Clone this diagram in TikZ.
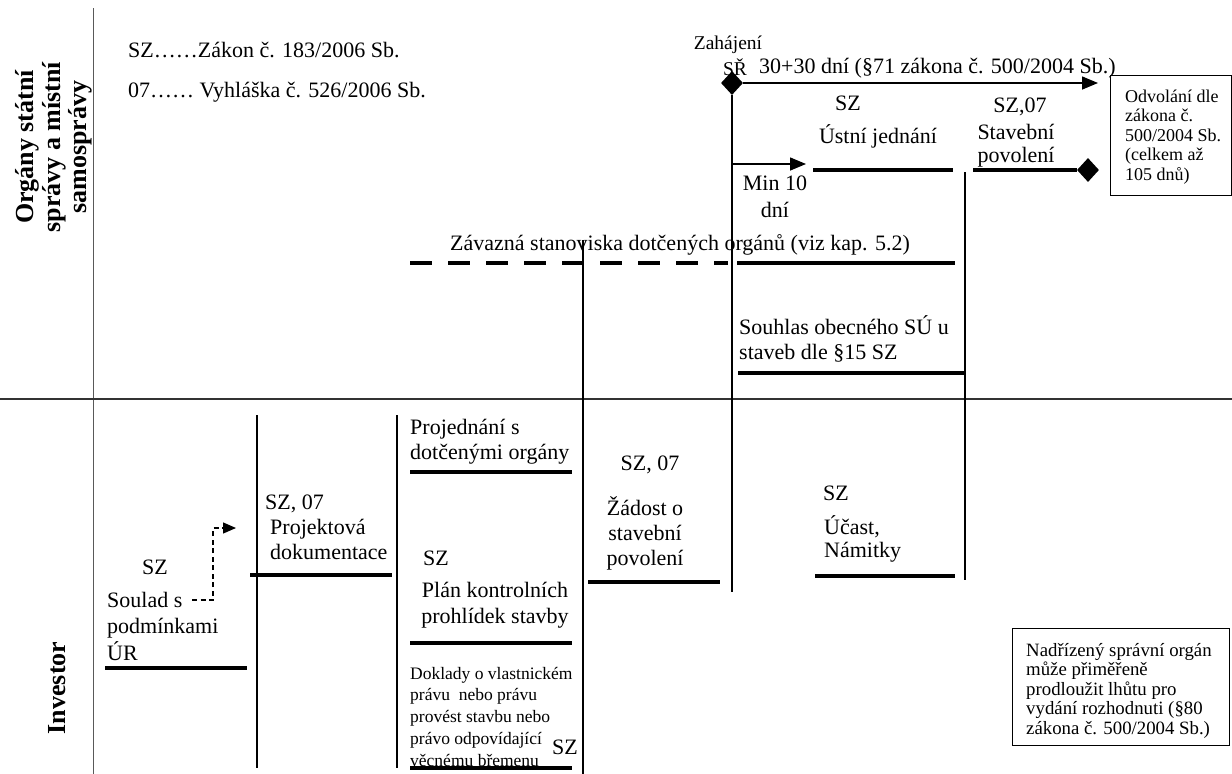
\documentclass[tikz,border=0pt]{standalone}
\usepackage{fontspec}
\setmainfont{Liberation Serif}
\usetikzlibrary{arrows.meta,shapes.geometric}
\newcommand{\fs}[2]{\fontsize{#1}{#2}\selectfont}
\newcommand{\TL}[1]{\begin{tabular}[t]{@{}l@{}}#1\end{tabular}}
\newcommand{\TC}[1]{\begin{tabular}[t]{@{}c@{}}#1\end{tabular}}
\tikzset{
  txt/.style={font=\fs{22}{25}, inner sep=0pt},
  txtb/.style={font=\fs{22}{23}, inner sep=0pt},
  txtm/.style={font=\fs{22}{27}, inner sep=0pt},
  txtw/.style={font=\fs{22}{26.5}, inner sep=0pt},
  txtz/.style={font=\fs{19.5}{26}, inner sep=0pt},
  smalltxt/.style={font=\fs{17.5}{21.8}, inner sep=0pt},
  boxtxt/.style={font=\fs{18}{19.5}, inner sep=0pt},
  notetxt/.style={font=\fs{18.8}{19.5}, inner sep=0pt},
  bar/.style={line width=4.5pt},
  vline/.style={line width=2pt},
  arr/.style={line width=1.5pt, -{Triangle[length=16pt,width=13pt]}},
  darr/.style={line width=1.3pt, dash pattern=on 5pt off 3.5pt, -{Triangle[length=13pt,width=11pt]}},
  dia/.style={diamond, fill=black, inner sep=0pt, minimum width=22pt, minimum height=24pt},
  lane/.style={font=\bfseries\fs{26}{26.5}, rotate=90, align=center, inner sep=0pt},
  infobox/.style={draw, line width=1.3pt, anchor=north west, inner sep=0pt},
}
\begin{document}
\begin{tikzpicture}[x=1pt,y=-1pt]
\useasboundingbox (0,0) rectangle (1232,774);
\fill[white] (0,0) rectangle (1232,774);

% lane structure
\draw[line width=1pt, black!65] (93,8) -- (93,774);
\draw[line width=1.3pt, black!80] (0,399) -- (1232,399);
\node[lane] (laneA) at (54,147) {Orgány státní\\správy a místní\\samosprávy};
\node[lane] (laneB) at (57,688) {Investor};

% legend
\node[txt, anchor=base west] (leg1) at (128,57) {SZ……Zákon č. 183/2006 Sb.};
\node[txt, anchor=base west] (leg2) at (128,97) {07…… Vyhláška č. 526/2006 Sb.};

% start of proceedings
\node[txtz, anchor=base] (zah) at (728,49) {Zahájení};
\node[txtz, anchor=base] (sr) at (735,75) {SŘ};
\node[dia] (d1) at (732,83) {};
\coordinate (arrEnd) at (1098,83);
\draw[arr] (d1.east) -- (arrEnd);
\node[txt, anchor=base west] (lhuta) at (759,73) {30+30 dní (§71 zákona č. 500/2004 Sb.)};
\coordinate (v732end) at (732,592);
\draw[vline] (d1.south) -- (v732end);

% appeal box
\node[infobox, minimum width=121pt, minimum height=120pt] (odv) at (1110,75) {};
\node[boxtxt, anchor=base west] (odvt) at (1125,102) {\TL{Odvolání dle\\zákona č.\\500/2004 Sb.\\(celkem až\\105 dnů)}};

% oral hearing
\coordinate (m10a) at (732,164);
\coordinate (m10b) at (806,164);
\draw[arr] (m10a) -- (m10b);
\node[txtm, anchor=base] (min10) at (775,190) {\TC{Min 10\\dní}};
\node[txt, anchor=base] (szU) at (848,110) {SZ};
\node[txt, anchor=base] (ustni) at (878,143) {Ústní jednání};
\draw[bar] (813,170) -- (953,170);

% building permit
\node[txt, anchor=base] (sz07a) at (1020,112) {SZ,07};
\node[txtb, anchor=base] (stav) at (1016,139) {\TC{Stavební\\povolení}};
\node[dia] (d2) at (1088,170) {};
\draw[bar] (973,170) -- (d2.west);
\draw[vline] (965,172) -- (965,580);

% binding opinions
\node[txt, anchor=base] (zavaz) at (680,250) {Závazná stanoviska dotčených orgánů (viz kap. 5.2)};
\draw[line width=4.5pt, dash pattern=on 22pt off 16pt] (410,263) -- (728,263);
\draw[bar] (737,263) -- (955,263);
\draw[vline] (583,240) -- (583,774);

% consent
\node[txt, anchor=base west] (souhlas) at (739,334) {\TL{Souhlas obecného SÚ u\\staveb dle §15 SZ}};
\draw[bar] (738,373) -- (966,373);

% investor lane
\node[txt, anchor=base] (szS) at (155,574) {SZ};
\node[txtw, anchor=base west] (soulad) at (107,607) {\TL{Soulad s\\podmínkami\\ÚR}};
\draw[bar] (105,668) -- (247,668);
\coordinate (da1) at (192,600);
\coordinate (da2) at (213,600);
\coordinate (da3) at (213,528);
\coordinate (da4) at (236,528);
\draw[darr] (da1) -- (da2) -- (da3) -- (da4);

\draw[vline] (257,415) -- (257,768);
\node[txt, anchor=base west] (sz07b) at (265,509) {SZ, 07};
\node[txt, anchor=base west] (projd) at (270,534) {\TL{Projektová\\dokumentace}};
\draw[bar] (250,575) -- (392,575);

\draw[vline] (397,415) -- (397,768);
\node[txt, anchor=base west] (projed) at (410,434) {\TL{Projednání s\\dotčenými orgány}};
\draw[bar] (410,472) -- (572,472);
\node[txt, anchor=base] (szP) at (436,565) {SZ};
\node[txtw, anchor=base] (plan) at (495,597) {\TC{Plán kontrolních\\prohlídek stavby}};
\draw[bar] (410,643) -- (572,643);
\node[smalltxt, anchor=base west] (doklady) at (410,679) {\TL{Doklady o vlastnickém\\právu\ \ nebo právu\\provést stavbu nebo\\právo odpovídající\\věcnému břemenu}};
\node[txt, anchor=base] (szD) at (565,754) {SZ};
\draw[bar] (410,768) -- (572,768);

\node[txt, anchor=base] (sz07c) at (650,470) {SZ, 07};
\node[txt, anchor=base] (zadost) at (645,515) {\TC{Žádost o\\stavební\\povolení}};
\draw[bar] (588,582) -- (720,582);

\node[txt, anchor=base] (szN) at (836,500) {SZ};
\node[txtb, anchor=base west] (ucast) at (824,534) {\TL{Účast,\\Námitky}};
\draw[bar] (815,576) -- (955,576);

% note box
\node[infobox, minimum width=217pt, minimum height=117pt] (nadr) at (1012,628) {};
\node[notetxt, anchor=base west] (nadrt) at (1026,656) {\TL{Nadřízený správní orgán\\může přiměřeně\\prodloužit lhůtu pro\\vydání rozhodnuti (§80\\zákona č. 500/2004 Sb.)}};
\end{tikzpicture}
\end{document}
